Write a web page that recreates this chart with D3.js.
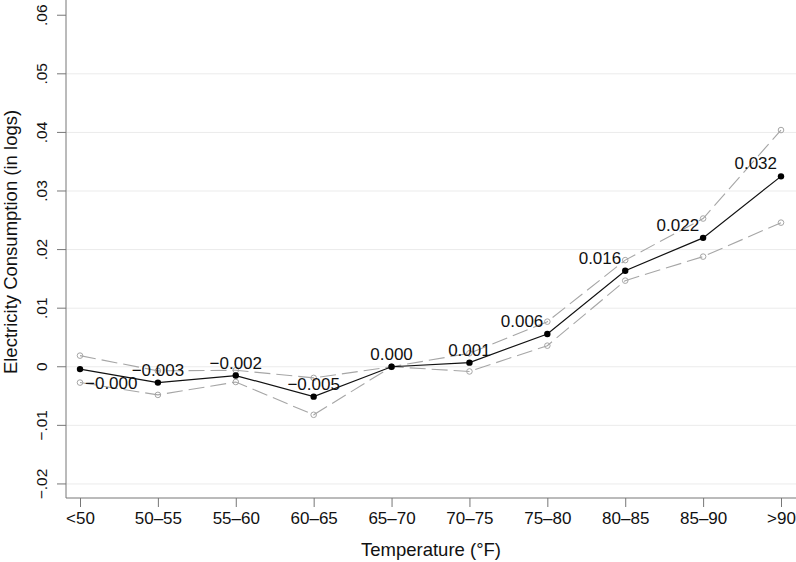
<!DOCTYPE html>
<html>
<head>
<meta charset="utf-8">
<script src="https://cdn.jsdelivr.net/npm/d3@7"></script>
<style>
    body { margin: 0; background: #fff; }
    text { font-family: "Liberation Sans", Arial, Helvetica, sans-serif; }
</style>
</head>
<body>
<script>
const categories = ["<50", "50\u201355", "55\u201360", "60\u201365", "65\u201370", "70\u201375", "75\u201380", "80\u201385", "85\u201390", ">90"];
const estimate = [-0.0004, -0.0027, -0.0015, -0.0051, 0.0, 0.0007, 0.0056, 0.0164, 0.0220, 0.0325];
const upper = [0.0019, -0.0007, -0.0006, -0.0019, 0.0, 0.0023, 0.0077, 0.0182, 0.0253, 0.0404];
const lower = [-0.0027, -0.0048, -0.0026, -0.0082, 0.0, -0.0008, 0.0036, 0.0147, 0.0188, 0.0246];
const labels = ["\u22120.000", "\u22120.003", "\u22120.002", "\u22120.005", "0.000", "0.001", "0.006", "0.016", "0.022", "0.032"];
const labelPos = [4, 12, 12, 12, 12, 12, 11, 11, 11, 11];
const yTicks = [-0.02, -0.01, 0, 0.01, 0.02, 0.03, 0.04, 0.05, 0.06];

(function () {
    const width = 796, height = 562;
    const plotLeft = 66, plotRight = 796, plotTop = 0, plotBottom = 498;

    let svg = d3.select("body").append("svg")
        .attr("width", width)
        .attr("height", height);

    let x = d3.scalePoint()
        .domain(categories)
        .range([80, 781]);

    let y = d3.scaleLinear()
        .domain([-0.0224, 0.0626])
        .range([plotBottom, plotTop]);

    // gridlines
    svg.append("g").selectAll("line")
        .data(yTicks.filter(d => d < 0.06))
        .enter().append("line")
        .attr("x1", plotLeft).attr("x2", plotRight)
        .attr("y1", d => y(d)).attr("y2", d => y(d))
        .attr("stroke", "#ebebeb")
        .attr("stroke-width", 1);

    const fmt = d => d === 0 ? "0" : d3.format(".2f")(d).replace("0.", ".").replace("-", "\u2212");

    let yAxis = svg.append("g")
        .attr("transform", `translate(${plotLeft},0)`)
        .call(d3.axisLeft(y).tickValues(yTicks).tickSize(9).tickFormat(fmt));
    yAxis.select(".domain").attr("d", `M0,${plotTop}V${plotBottom}`);
    yAxis.selectAll("line, path").attr("stroke", "#777");
    yAxis.selectAll("text")
        .attr("x", 0)
        .attr("y", 0)
        .attr("dy", "0.35em")
        .attr("transform", d => `translate(-24,${y(d)}) rotate(-90)`)
        .attr("text-anchor", "middle")
        .style("font-size", "15.5px")
        .attr("fill", "#111");
    // tick text lives in its own translated tick group; undo that offset
    yAxis.selectAll(".tick").attr("transform", null);
    yAxis.selectAll(".tick line").attr("transform", d => `translate(0,${y(d)})`);

    let xAxis = svg.append("g")
        .attr("transform", `translate(0,${plotBottom})`)
        .call(d3.axisBottom(x).tickSize(9));
    xAxis.select(".domain").attr("d", `M${plotLeft},0H${plotRight}`);
    xAxis.selectAll("line, path").attr("stroke", "#777");
    xAxis.selectAll("text")
        .attr("y", 20.5)
        .attr("dy", "0.35em")
        .style("font-size", "17px")
        .attr("fill", "#111");

    // axis titles
    svg.append("text")
        .attr("transform", `translate(17,242) rotate(-90)`)
        .attr("text-anchor", "middle")
        .style("font-size", "18.5px")
        .attr("fill", "#111")
        .text("Electricity Consumption (in logs)");

    svg.append("text")
        .attr("x", 431).attr("y", 556)
        .attr("text-anchor", "middle")
        .style("font-size", "18.5px")
        .attr("fill", "#111")
        .text("Temperature (\u00B0F)");

    let line = d3.line()
        .x((d, i) => x(categories[i]))
        .y(d => y(d));

    // confidence bounds
    [upper, lower].forEach(series => {
        svg.append("path")
            .datum(series)
            .attr("d", line)
            .attr("fill", "none")
            .attr("stroke", "#a6a6a6")
            .attr("stroke-width", 1.1)
            .attr("stroke-dasharray", "16,6");
        svg.append("g").selectAll("circle")
            .data(series)
            .enter().append("circle")
            .attr("cx", (d, i) => x(categories[i]))
            .attr("cy", d => y(d))
            .attr("r", 2.8)
            .attr("fill", "none")
            .attr("stroke", "#a6a6a6")
            .attr("stroke-width", 1);
    });

    // point estimate
    svg.append("path")
        .datum(estimate)
        .attr("d", line)
        .attr("fill", "none")
        .attr("stroke", "#111")
        .attr("stroke-width", 1.2);

    svg.append("g").selectAll("circle")
        .data(estimate)
        .enter().append("circle")
        .attr("cx", (d, i) => x(categories[i]))
        .attr("cy", d => y(d))
        .attr("r", 3.2)
        .attr("fill", "#000");

    // marker labels
    svg.append("g").selectAll("text")
        .data(estimate)
        .enter().append("text")
        .attr("x", (d, i) => {
            let px = x(categories[i]);
            if (labelPos[i] === 4) return px + 5;
            if (labelPos[i] === 11) return px - 4;
            return px;
        })
        .attr("y", (d, i) => y(d) + (labelPos[i] === 4 ? 14 : -13))
        .attr("dy", "0.35em")
        .attr("text-anchor", (d, i) => labelPos[i] === 4 ? "start" : labelPos[i] === 11 ? "end" : "middle")
        .style("font-size", "17px")
        .attr("fill", "#111")
        .text((d, i) => labels[i]);
})();
</script>
</body>
</html>
